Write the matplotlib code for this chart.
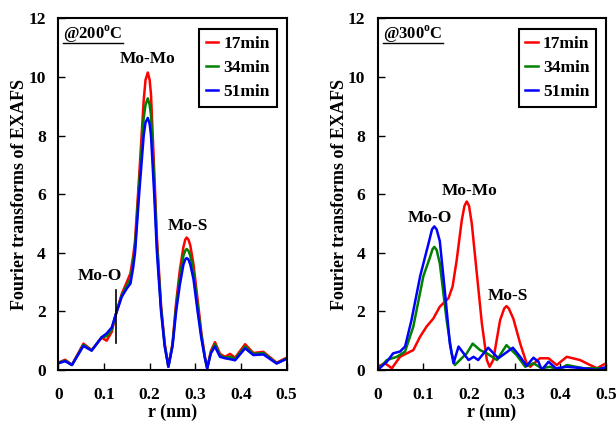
import matplotlib.pyplot as plt

plt.rcParams['font.family'] = ['Liberation Serif', 'DejaVu Serif']
plt.rcParams['font.weight'] = 'bold'

# left panel: @200C
r_200 = [0.000, 0.015, 0.030, 0.055, 0.073, 0.095, 0.106, 0.117, 0.125, 0.139,
         0.150, 0.158, 0.164, 0.168, 0.177, 0.187, 0.191, 0.196, 0.200, 0.203,
         0.210, 0.216, 0.225, 0.233, 0.241, 0.250, 0.258, 0.266, 0.274, 0.278,
         0.281, 0.285, 0.289, 0.296, 0.305, 0.313, 0.321, 0.326, 0.334, 0.343,
         0.354, 0.365, 0.376, 0.387, 0.409, 0.427, 0.449, 0.478, 0.500]
y200_17 = [0.25, 0.35, 0.18, 0.90, 0.68, 1.10, 1.00, 1.30, 1.85, 2.60,
           3.00, 3.30, 3.90, 4.40, 6.60, 9.20, 9.90, 10.15, 9.90, 9.40,
           6.80, 4.50, 2.20, 0.90, 0.12, 0.90, 2.30, 3.40, 4.20, 4.45,
           4.52, 4.45, 4.25, 3.60, 2.40, 1.30, 0.45, 0.05, 0.65, 0.95,
           0.55, 0.45, 0.55, 0.42, 0.88, 0.58, 0.62, 0.25, 0.42]
y200_34 = [0.24, 0.32, 0.17, 0.86, 0.67, 1.12, 1.15, 1.38, 1.85, 2.55,
           2.88, 3.10, 3.70, 4.20, 6.30, 8.60, 9.05, 9.27, 9.05, 8.70,
           6.40, 4.25, 2.10, 0.85, 0.11, 0.85, 2.15, 3.15, 3.90, 4.07,
           4.13, 4.07, 3.90, 3.35, 2.20, 1.20, 0.42, 0.06, 0.60, 0.88,
           0.50, 0.42, 0.45, 0.38, 0.80, 0.55, 0.58, 0.23, 0.40]
y200_51 = [0.23, 0.30, 0.17, 0.82, 0.66, 1.12, 1.25, 1.45, 1.85, 2.50,
           2.78, 2.95, 3.50, 4.00, 6.00, 8.00, 8.45, 8.60, 8.40, 8.00,
           6.00, 4.00, 2.00, 0.80, 0.11, 0.80, 2.00, 2.90, 3.60, 3.77,
           3.82, 3.77, 3.60, 3.10, 2.00, 1.10, 0.40, 0.06, 0.57, 0.80,
           0.45, 0.40, 0.37, 0.33, 0.74, 0.51, 0.53, 0.22, 0.38]

# right panel: @300C
r_300_17 = [0.000, 0.016, 0.031, 0.049, 0.064, 0.078, 0.093, 0.107, 0.122, 0.136,
            0.155, 0.164, 0.173, 0.184, 0.190, 0.195, 0.200, 0.206, 0.217, 0.228,
            0.239, 0.245, 0.253, 0.268, 0.277, 0.282, 0.287, 0.297, 0.312, 0.326,
            0.334, 0.355, 0.374, 0.392, 0.414, 0.443, 0.465, 0.480, 0.500]
y300_17 = [0.11, 0.23, 0.06, 0.45, 0.57, 0.68, 1.14, 1.48, 1.76, 2.16,
           2.45, 2.85, 3.75, 5.10, 5.60, 5.75, 5.60, 5.00, 3.30, 1.60,
           0.34, 0.11, 0.34, 1.70, 2.10, 2.18, 2.10, 1.75, 0.90, 0.23,
           0.11, 0.40, 0.40, 0.17, 0.45, 0.34, 0.17, 0.06, 0.23]

r_300_34 = [0.000, 0.020, 0.042, 0.060, 0.078, 0.100, 0.115, 0.120, 0.124, 0.129,
            0.136, 0.151, 0.162, 0.169, 0.180, 0.195, 0.208, 0.224, 0.239, 0.261,
            0.282, 0.304, 0.323, 0.341, 0.359, 0.377, 0.396, 0.414, 0.450, 0.500]
y300_34 = [0.00, 0.34, 0.45, 0.63, 1.48, 3.20, 3.87, 4.12, 4.20, 4.10,
           3.64, 1.70, 0.57, 0.17, 0.34, 0.57, 0.90, 0.68, 0.57, 0.34,
           0.85, 0.51, 0.11, 0.23, 0.06, 0.11, 0.00, 0.17, 0.06, 0.06]

r_300_51 = [0.000, 0.020, 0.034, 0.049, 0.060, 0.074, 0.093, 0.111, 0.119, 0.124,
            0.129, 0.136, 0.147, 0.158, 0.166, 0.177, 0.188, 0.199, 0.210, 0.220,
            0.242, 0.264, 0.296, 0.312, 0.326, 0.341, 0.352, 0.359, 0.374, 0.390,
            0.414, 0.450, 0.480, 0.500]
y300_51 = [0.00, 0.28, 0.57, 0.63, 0.80, 1.70, 3.20, 4.30, 4.80, 4.90,
           4.80, 4.40, 2.70, 0.90, 0.23, 0.80, 0.57, 0.34, 0.45, 0.34,
           0.76, 0.40, 0.76, 0.45, 0.14, 0.42, 0.28, 0.00, 0.28, 0.06,
           0.11, 0.06, 0.00, 0.10]

labels = ['17min', '34min', '51min']
colors = ['#ff0000', '#008000', '#0000ff']

fig = plt.figure(figsize=(6.16, 4.23), dpi=100)
ax1 = fig.add_axes([0.0946, 0.1253, 0.3708, 0.8314])
ax2 = fig.add_axes([0.6131, 0.1253, 0.3708, 0.8314])

for r, y, lab, c in zip([r_200] * 3, [y200_17, y200_34, y200_51], labels, colors):
    ax1.plot(r, y, color=c, lw=1.8, label=lab)
for r, y, lab, c in zip([r_300_17, r_300_34, r_300_51], [y300_17, y300_34, y300_51], labels, colors):
    ax2.plot(r, y, color=c, lw=1.8, label=lab)

for ax, temp in [(ax1, '200'), (ax2, '300')]:
    ax.set_xlim(0, 0.5)
    ax.set_ylim(0, 12)
    ax.set_xticks([0, 0.1, 0.2, 0.3, 0.4, 0.5])
    ax.set_xticklabels(['0', '0.1', '0.2', '0.3', '0.4', '0.5'])
    ax.set_yticks([0, 2, 4, 6, 8, 10, 12])
    ax.tick_params(direction='in', labelsize=12.5, length=5, width=1)
    ax.tick_params(axis='x', pad=12)
    ax.tick_params(axis='y', pad=9)
    for s in ax.spines.values():
        s.set_linewidth(1.5)
    ax.set_xlabel('r (nm)', fontsize=13, fontweight='bold', labelpad=1)
    ax.set_ylabel('Fourier transforms of EXAFS', fontsize=13, fontweight='bold', labelpad=0)
    ax.text(0.022, 0.942, '@' + temp + r'$^\mathregular{o}$C', transform=ax.transAxes,
            fontsize=12, fontweight='bold', va='baseline', ha='left')
    ax.plot([0.022, 0.285], [0.930, 0.930], color='black', lw=1, transform=ax.transAxes)
    leg = ax.legend(loc='upper right', bbox_to_anchor=(0.957, 0.970), borderaxespad=0,
                    fontsize=12.5, handlelength=0.7, handletextpad=0.3, borderpad=0.4,
                    labelspacing=0.45, fancybox=False, framealpha=1)
    leg.get_frame().set_edgecolor('black')
    leg.get_frame().set_linewidth(1.5)

ax1.text(0.196, 10.6, 'Mo-Mo', fontsize=12.5, fontweight='bold', ha='center', va='center')
ax1.text(0.284, 4.9, 'Mo-S', fontsize=12.5, fontweight='bold', ha='center', va='center')
ax1.text(0.091, 3.2, 'Mo-O', fontsize=12.5, fontweight='bold', ha='center', va='center')
ax1.plot([0.1265, 0.1265], [0.91, 2.73], color='black', lw=1.2)

ax2.text(0.201, 6.1, 'Mo-Mo', fontsize=12.5, fontweight='bold', ha='center', va='center')
ax2.text(0.115, 5.2, 'Mo-O', fontsize=12.5, fontweight='bold', ha='center', va='center')
ax2.text(0.286, 2.53, 'Mo-S', fontsize=12.5, fontweight='bold', ha='center', va='center')

fig.savefig('out.png', dpi=100)
